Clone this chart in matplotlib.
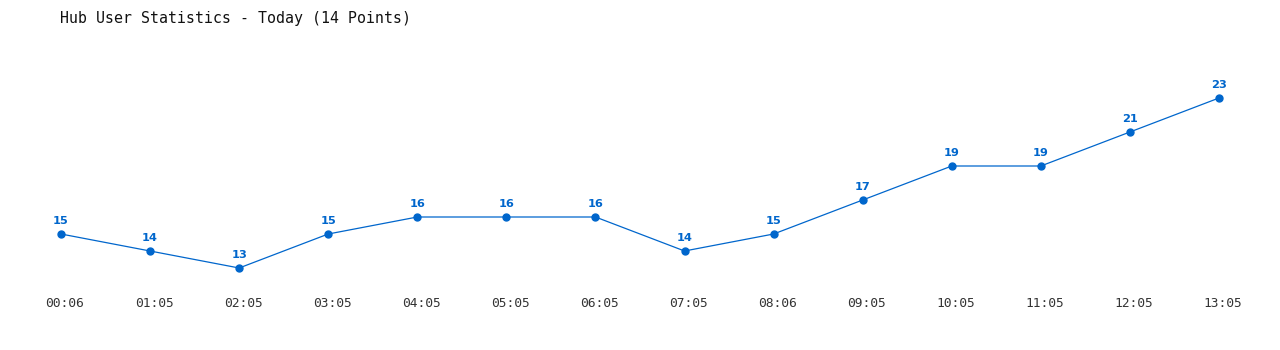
import matplotlib
matplotlib.use("Agg")
import matplotlib.pyplot as plt
import matplotlib.transforms as mtransforms

times = ["00:06", "01:05", "02:05", "03:05", "04:05", "05:05", "06:05",
         "07:05", "08:06", "09:05", "10:05", "11:05", "12:05", "13:05"]
users = [15, 14, 13, 15, 16, 16, 16, 14, 15, 17, 19, 19, 21, 23]
title = "Hub User Statistics - Today (14 Points)"

W, H = 1280, 350
fig = plt.figure(figsize=(W / 100, H / 100), dpi=100)

# pixel geometry
x0, dx = 61.0, (1219.0 - 61.0) / 13
ypx13, pxu = 268.0, 17.0
xmin, xmax = -0.5, 13.5
ymin, ymax = 11.35, 28.0
left = (x0 + dx * xmin) / W
right = (x0 + dx * xmax) / W
bottom = (H - (ypx13 + pxu * (13 - ymin))) / H
top = (H - (ypx13 - pxu * (ymax - 13))) / H
ax = fig.add_axes([left, bottom, right - left, top - bottom])
ax.set_xlim(xmin, xmax)
ax.set_ylim(ymin, ymax)

blue = "#0066cc"
xs = list(range(len(users)))
ax.plot(xs, users, color=blue, lw=0.9, marker="o", markersize=5, zorder=3)
for x, v in zip(xs, users):
    ax.annotate(str(v), (x, v), xytext=(0, 5.5), textcoords="offset points",
                ha="center", va="bottom", color=blue, fontsize=8.2,
                fontweight="bold", family="DejaVu Sans")

ax.set_xticks(xs)
ax.set_xticklabels(times, family="DejaVu Sans Mono", fontsize=9.3, color="#333333")
ax.tick_params(axis="x", length=0, pad=0.5)
shift = mtransforms.ScaledTranslation(4 / 100, 0, fig.dpi_scale_trans)
for lbl in ax.get_xticklabels():
    lbl.set_transform(lbl.get_transform() + shift)
ax.set_yticks([])
for s in ax.spines.values():
    s.set_visible(False)

fig.text(60 / W, 1 - 18 / H, title, family="DejaVu Sans Mono", fontsize=10.75,
         color="#111111", ha="left", va="center")

fig.savefig("out.png", dpi=100, facecolor="white")
